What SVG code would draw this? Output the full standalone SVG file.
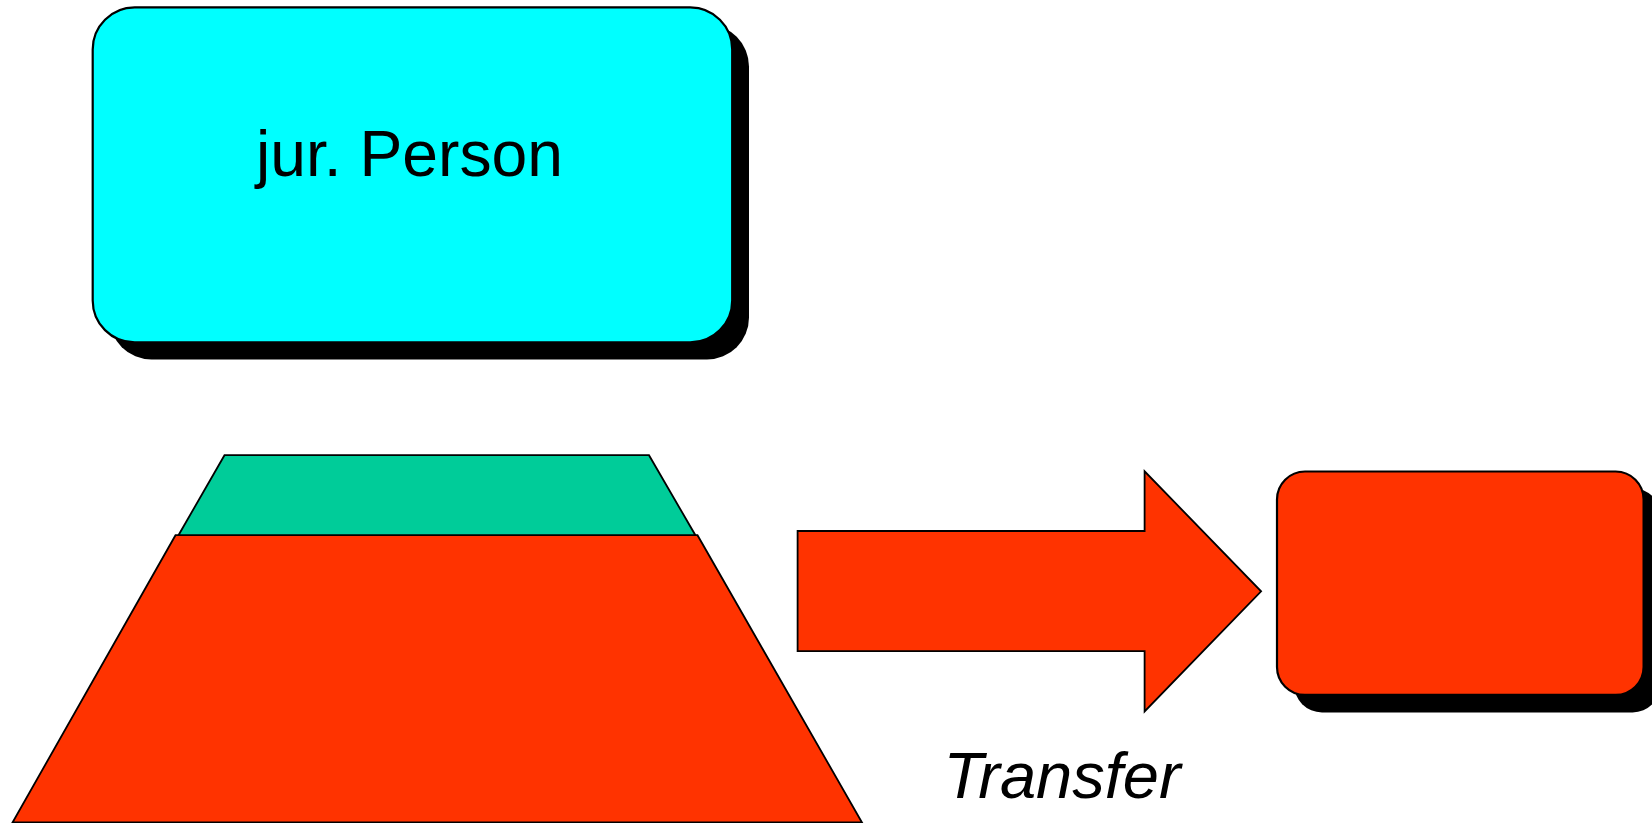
<svg xmlns="http://www.w3.org/2000/svg" width="1652" height="823" viewBox="0 0 1652 823">
<style>
.shadow{fill:#000;stroke:none}
.box{stroke:#000;stroke-width:2.2}
.shape{stroke:#000;stroke-width:1.8;stroke-linejoin:miter}
.cyan{fill:#00FFFF}
.red{fill:#FF3300}
.green{fill:#00CC99}
.label{font-family:"Liberation Sans",Arial,sans-serif;font-size:65px;fill:#000}
</style>
<rect width="1652" height="823" fill="#fff"/>
<g id="jur-person">
  <rect class="shadow" x="109.5" y="24.5" width="639.5" height="335" rx="42" ry="42"/>
  <rect class="box cyan" x="92.7" y="7.4" width="639.5" height="335" rx="42" ry="42"/>
  <text class="label" x="256" y="176" font-size="67" textLength="307" lengthAdjust="spacingAndGlyphs">jur. Person</text>
</g>
<g id="trapezoid">
  <polygon class="shape red" points="175.5,535.2 697.5,535.2 862,822.5 12.5,822.5"/>
  <polygon class="shape green" points="224.5,455.2 649,455.2 695.4,535.2 178.5,535.2"/>
</g>
<g id="target-box">
  <rect class="shadow" x="1294" y="488" width="366.6" height="224.4" rx="28" ry="28"/>
  <rect class="box red" x="1277" y="471.5" width="366.6" height="223.4" rx="28" ry="28"/>
</g>
<g id="connectors">
  <polygon class="shape red" points="797.6,531 1144.6,531 1144.6,471.3 1261.1,591.3 1144.6,711.5 1144.6,651.1 797.6,651.1"/>
</g>
<g id="transfer-label">
  <text class="label" x="1062" y="798" text-anchor="middle" font-style="italic" font-size="64">Transfer</text>
</g>
</svg>
